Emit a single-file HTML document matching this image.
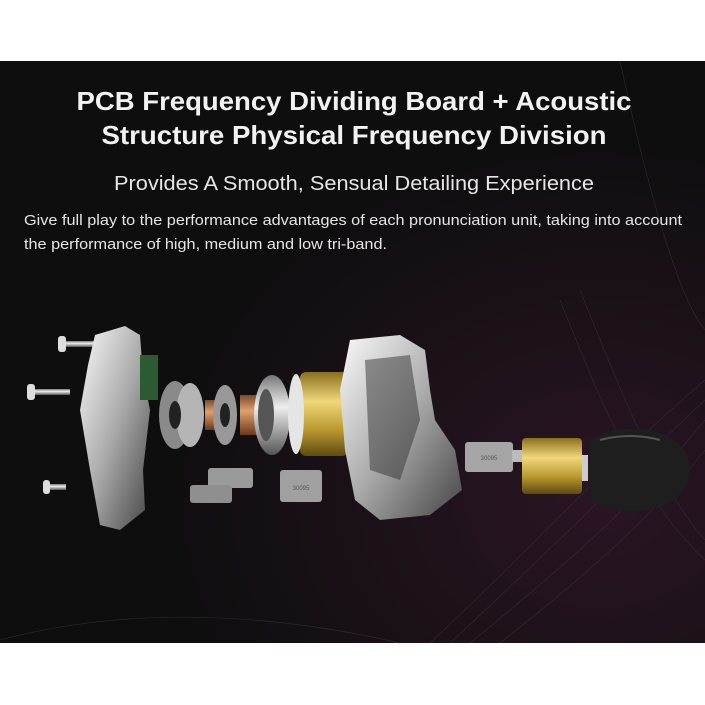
<!DOCTYPE html>
<html><head><style>
html,body{margin:0;padding:0;background:#fff;}
svg{display:block;}
</style></head><body>
<svg width="705" height="705" viewBox="0 0 705 705" xmlns="http://www.w3.org/2000/svg" font-family="Liberation Sans, sans-serif">
<defs>
<radialGradient id="bgp" cx="0.85" cy="0.75" r="0.6">
<stop offset="0" stop-color="#2a1524"/><stop offset="1" stop-color="#0f0e0f"/>
</radialGradient>
<linearGradient id="gold" x1="0" y1="0" x2="0" y2="1">
<stop offset="0" stop-color="#8a6f1c"/><stop offset="0.35" stop-color="#f0d77a"/><stop offset="0.7" stop-color="#b8962e"/><stop offset="1" stop-color="#5e4a12"/>
</linearGradient>
<linearGradient id="silv" x1="0" y1="0" x2="0" y2="1">
<stop offset="0" stop-color="#777"/><stop offset="0.4" stop-color="#eee"/><stop offset="1" stop-color="#555"/>
</linearGradient>
<linearGradient id="shell" x1="0" y1="0" x2="1" y2="1">
<stop offset="0" stop-color="#fafafa"/><stop offset="0.5" stop-color="#aaa"/><stop offset="1" stop-color="#444"/>
</linearGradient>
<linearGradient id="cop" x1="0" y1="0" x2="0" y2="1">
<stop offset="0" stop-color="#7a4a2a"/><stop offset="0.4" stop-color="#e0a070"/><stop offset="1" stop-color="#6a3a1a"/>
</linearGradient>
</defs>
<rect x="0" y="61" width="705" height="582" fill="url(#bgp)"/>
<g stroke="#3a3040" stroke-width="0.6" fill="none" opacity="0.8">
<path d="M430 643 C520 560 600 470 705 380"/><path d="M450 643 C540 560 620 480 705 400"/>
<path d="M470 643 C560 570 640 500 705 420"/><path d="M500 643 C580 580 650 520 705 450"/>
<path d="M560 300 C600 400 640 500 705 560"/><path d="M580 290 C620 390 660 490 705 540"/>
<path d="M0 640 C150 600 300 620 400 643"/><path d="M620 61 C650 200 680 300 705 330"/>
</g>
<text x="354" y="110" text-anchor="middle" font-size="26" font-weight="bold" fill="#f2f2f2" textLength="555" lengthAdjust="spacingAndGlyphs">PCB Frequency Dividing Board + Acoustic</text>
<text x="354" y="144" text-anchor="middle" font-size="26" font-weight="bold" fill="#f2f2f2" textLength="505" lengthAdjust="spacingAndGlyphs">Structure Physical Frequency Division</text>
<text x="354" y="190" text-anchor="middle" font-size="20" fill="#e6e6e6" textLength="480" lengthAdjust="spacingAndGlyphs">Provides A Smooth, Sensual Detailing Experience</text>
<text x="24" y="225" font-size="15" fill="#e6e6e6" textLength="658" lengthAdjust="spacingAndGlyphs">Give full play to the performance advantages of each pronunciation unit, taking into account</text>
<text x="24" y="249" font-size="15" fill="#e6e6e6" textLength="363" lengthAdjust="spacingAndGlyphs">the performance of high, medium and low tri-band.</text>
<!-- screws -->
<rect x="62" y="341" width="40" height="6" fill="url(#silv)"/><rect x="58" y="336" width="8" height="16" rx="3" fill="#ddd"/>
<rect x="30" y="389" width="40" height="6" fill="url(#silv)"/><rect x="27" y="384" width="8" height="16" rx="3" fill="#ddd"/>
<rect x="46" y="484" width="20" height="6" fill="url(#silv)"/><rect x="43" y="480" width="7" height="14" rx="3" fill="#ddd"/>
<!-- faceplate -->
<path d="M95 335 L125 326 L140 335 L143 375 L150 410 L143 470 L145 510 L120 530 L100 525 L90 470 L80 410 L88 365 Z" fill="url(#shell)"/>
<rect x="140" y="355" width="18" height="45" fill="#2c5a33"/>
<!-- discs -->
<ellipse cx="175" cy="415" rx="16" ry="34" fill="#8a8a8a"/><ellipse cx="190" cy="415" rx="14" ry="32" fill="#b5b5b5"/><ellipse cx="175" cy="415" rx="6" ry="14" fill="#222"/>
<rect x="205" y="400" width="25" height="30" fill="url(#cop)"/>
<ellipse cx="225" cy="415" rx="12" ry="30" fill="#999"/><ellipse cx="225" cy="415" rx="5" ry="12" fill="#222"/>
<rect x="240" y="395" width="20" height="40" fill="url(#cop)"/>
<ellipse cx="272" cy="415" rx="18" ry="40" fill="url(#silv)"/><ellipse cx="266" cy="415" rx="8" ry="26" fill="#555"/>
<rect x="300" y="372" width="48" height="84" rx="6" fill="url(#gold)"/>
<ellipse cx="296" cy="414" rx="8" ry="40" fill="#e5e5e5"/>
<!-- shell -->
<path d="M350 340 L400 335 L425 350 L430 390 L435 420 L455 450 L462 490 L430 515 L380 520 L355 500 L345 450 L340 390 Z" fill="url(#shell)"/>
<path d="M365 360 L410 355 L420 420 L400 480 L370 470 Z" fill="#333" opacity="0.5"/>
<!-- blocks -->
<rect x="208" y="468" width="45" height="20" rx="3" fill="#9a9a9a"/>
<rect x="190" y="485" width="42" height="18" rx="3" fill="#8f8f8f"/>
<rect x="280" y="470" width="42" height="32" rx="3" fill="#a0a0a0"/>
<text x="301" y="490" font-size="6" fill="#555" text-anchor="middle">30095</text>
<rect x="465" y="442" width="48" height="30" rx="3" fill="#a5a5a5"/>
<text x="489" y="460" font-size="6" fill="#555" text-anchor="middle">30095</text>
<rect x="512" y="450" width="10" height="12" fill="#bbb"/>
<rect x="522" y="438" width="60" height="56" rx="4" fill="url(#gold)"/>
<rect x="582" y="455" width="6" height="26" fill="#ccc"/>
<path d="M590 440 Q610 425 650 430 Q690 440 690 470 Q688 500 650 510 Q610 515 590 500 Z" fill="#1e1e1e"/>
<path d="M600 440 Q630 432 660 440" stroke="#555" stroke-width="2" fill="none"/>
</svg>
</body></html>
